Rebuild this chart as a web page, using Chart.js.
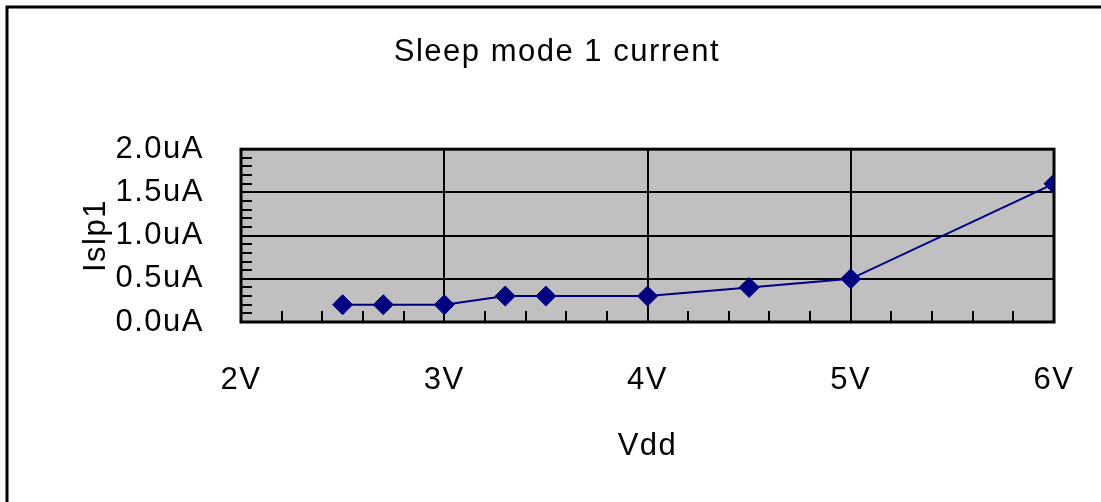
<!DOCTYPE html>
<html>
<head>
<meta charset="utf-8">
<script src="https://cdn.jsdelivr.net/npm/chart.js@4.4.0/dist/chart.umd.min.js"></script>
<style>
  html, body { margin: 0; padding: 0; background: #fff; }
  #chart { display: block; }
</style>
</head>
<body>
<canvas id="chart" width="1101" height="502"></canvas>
<script>
// Data
const vdd = [2.5, 2.7, 3.0, 3.3, 3.5, 4.0, 4.5, 5.0, 6.0];
const islp1 = [0.2, 0.2, 0.2, 0.3, 0.3, 0.3, 0.4, 0.5, 1.6];
const xMinorStep = 0.2;
const yMinorStep = 0.1;

const textFont = { family: "'Liberation Sans', Arial, sans-serif", size: 31 };

// Frame, plot background, border and minor ticks
const framePlugin = {
    id: 'frame',
    beforeDraw(chart) {
        const ctx = chart.ctx;
        const a = chart.chartArea;
        ctx.save();
        ctx.fillStyle = '#c0c0c0';
        ctx.fillRect(a.left, a.top, a.right - a.left, a.bottom - a.top);
        ctx.strokeStyle = '#000';
        ctx.lineWidth = 3;
        ctx.beginPath();
        ctx.moveTo(7, 502);
        ctx.lineTo(7, 7);
        ctx.lineTo(1101, 7);
        ctx.stroke();
        ctx.restore();
        ctx.letterSpacing = '1.5px';
    },
    beforeDatasetsDraw(chart) {
        const ctx = chart.ctx;
        const a = chart.chartArea;
        const xs = chart.scales.x, ys = chart.scales.y;
        ctx.save();
        ctx.strokeStyle = '#000';
        ctx.lineWidth = 2;
        ctx.beginPath();
        for (let v = xs.min + xMinorStep; v < xs.max - 1e-6; v += xMinorStep) {
            const px = Math.round(xs.getPixelForValue(v));
            ctx.moveTo(px, a.bottom);
            ctx.lineTo(px, a.bottom - 11);
        }
        for (let v = ys.min + yMinorStep; v < ys.max - 1e-6; v += yMinorStep) {
            const py = Math.round(ys.getPixelForValue(v));
            ctx.moveTo(a.left, py);
            ctx.lineTo(a.left + 11, py);
        }
        ctx.stroke();
        ctx.lineWidth = 3;
        ctx.strokeRect(a.left, a.top, a.right - a.left, a.bottom - a.top);
        ctx.restore();
    }
};

const ctx = document.getElementById('chart').getContext('2d');
const chart = new Chart(ctx, {
    type: 'line',
    data: {
        datasets: [{
            label: 'Islp1',
            data: vdd.map((v, i) => ({ x: v, y: islp1[i] })),
            borderColor: '#000080',
            backgroundColor: '#000080',
            borderWidth: 2,
            pointStyle: 'rectRot',
            pointRadius: 10,
            pointBorderWidth: 1,
            pointBorderColor: '#000080',
            tension: 0
        }]
    },
    options: {
        responsive: false,
        animation: false,
        layout: { padding: { left: 60, right: 47, top: 0, bottom: 0 } },
        plugins: {
            legend: { display: false },
            tooltip: { enabled: false },
            title: {
                display: true,
                text: 'Sleep mode 1 current',
                color: '#000',
                font: { ...textFont, weight: 'normal' },
                padding: { top: 34, bottom: 78 }
            }
        },
        scales: {
            x: {
                type: 'linear',
                min: 2,
                max: 6,
                afterFit(scale) {
                    scale.height = 180;
                    scale.paddingLeft = 0;
                    scale.paddingRight = 0;
                },
                ticks: {
                    stepSize: 1,
                    color: '#000',
                    font: textFont,
                    padding: 40,
                    maxRotation: 0,
                    callback: v => v + 'V'
                },
                grid: { color: '#000', lineWidth: 2, drawTicks: false },
                border: { display: false },
                title: {
                    display: true,
                    text: 'Vdd',
                    color: '#000',
                    font: textFont,
                    padding: { top: 0, bottom: 37 }
                }
            },
            y: {
                min: 0,
                max: 2,
                afterFit(scale) {
                    scale.width = 181;
                    scale.paddingTop = 0;
                    scale.paddingBottom = 0;
                },
                ticks: {
                    stepSize: 0.5,
                    color: '#000',
                    font: textFont,
                    padding: 37,
                    callback: v => v.toFixed(1) + 'uA'
                },
                grid: { color: '#000', lineWidth: 2, drawTicks: false },
                border: { display: false },
                title: {
                    display: true,
                    text: 'Islp1',
                    color: '#000',
                    font: textFont,
                    padding: { top: 18, bottom: 0 }
                }
            }
        }
    },
    plugins: [framePlugin]
});
</script>
</body>
</html>
